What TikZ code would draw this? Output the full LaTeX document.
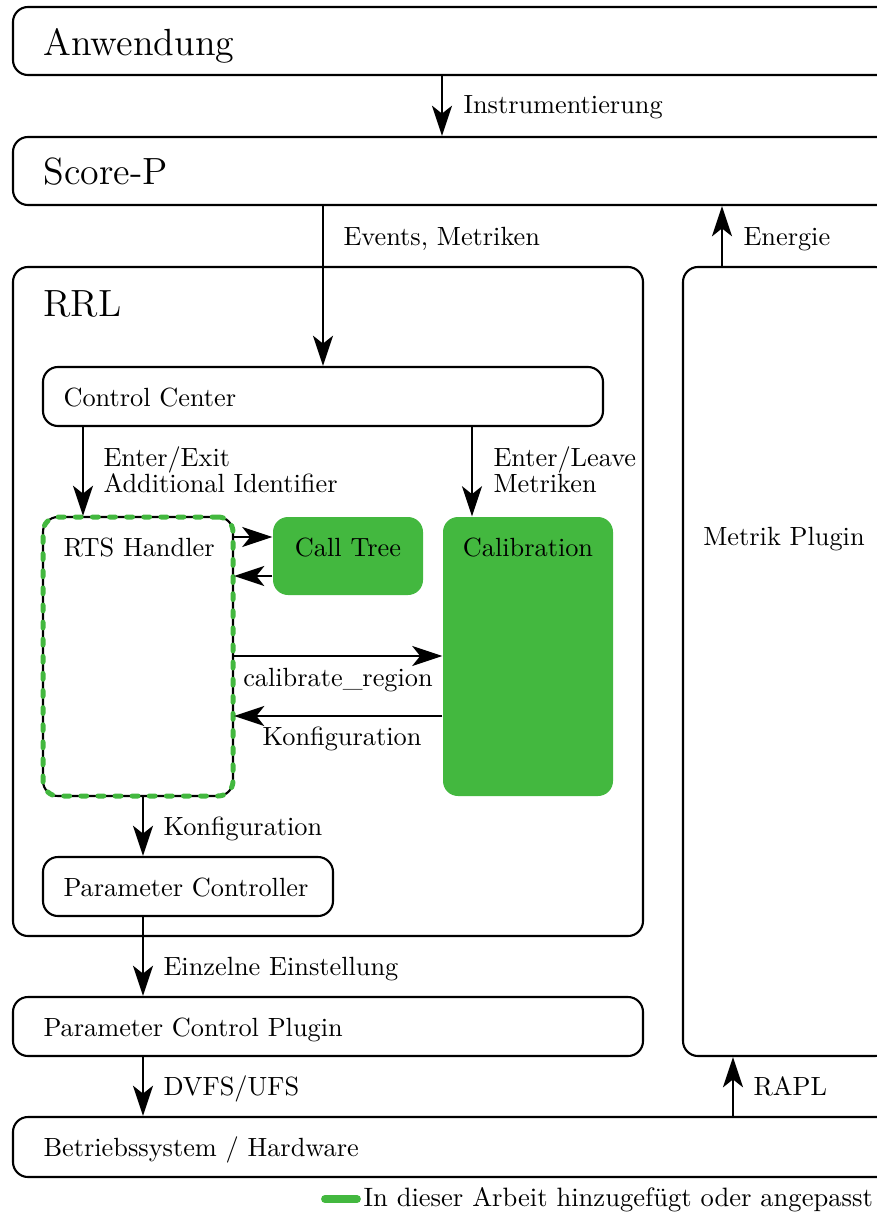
\documentclass[tikz,border=0pt]{standalone}
\usepackage{fontspec}
\usetikzlibrary{arrows.meta,fit}
\definecolor{addgreen}{RGB}{67,184,63}
\begin{document}
\begin{tikzpicture}[x=0.38pt,y=-0.38pt,
  box/.style={draw, line width=0.8pt, rounded corners=5.7pt, inner sep=0pt},
  greenbox/.style={fill=addgreen, rounded corners=5.7pt, inner sep=0pt},
  newpart/.style={postaction={draw=addgreen, line width=1.9pt,
      dash pattern=on 2.2pt off 4.3pt, line cap=round}},
  arr/.style={-{Stealth[length=11.5pt,width=7.6pt,inset=3pt]}, line width=0.8pt},
  lbl/.style={anchor=base west, inner sep=0pt, font=\fontsize{10}{12}\selectfont},
  clbl/.style={lbl, anchor=base},
  title/.style={lbl, font=\fontsize{14.4}{17}\selectfont},
  legline/.style={draw=addgreen, line width=3pt, line cap=round}]
\useasboundingbox (0,0) rectangle (876,1215);

% layers
\node[box, fit={(13,7) (900,75)}] (anw) {};
\node[title] at (43,56) {Anwendung};
\node[box, fit={(13,137) (900,205)}] (scorep) {};
\node[title] at (43,184) {Score-P};
\node[box, fit={(13,267) (643,936)}] (rrl) {};
\node[title] at (43,316) {RRL};
\node[box, fit={(683,267) (890,1056)}] (metrik) {};
\node[clbl] at (784,545) {Metrik Plugin};
\node[box, fit={(13,997) (643,1056)}] (pcp) {};
\node[lbl] at (43,1036) {Parameter Control Plugin};
\node[box, fit={(13,1117) (900,1177)}] (os) {};
\node[lbl] at (43,1156) {Betriebssystem / Hardware};

% RRL internals
\node[box, fit={(43,367) (603,426)}] (cc) {};
\node[lbl] at (63,406) {Control Center};
\node[box, newpart, fit={(43,517) (233,796)}] (rts) {};
\node[lbl] at (63,556) {RTS Handler};
\node[greenbox, fit={(273,517) (423,595)}] (calltree) {};
\node[clbl] at (348,556) {Call Tree};
\node[greenbox, fit={(443,517) (613,796)}] (calib) {};
\node[clbl] at (528,556) {Calibration};
\node[box, fit={(43,857) (333,916)}] (pc) {};
\node[lbl] at (63,896) {Parameter Controller};

% data flow
\draw[arr] (442,0 |- anw.south) -- (442,0 |- scorep.north);
\node[lbl] at (463,114) {Instrumentierung};
\draw[arr] (323,0 |- scorep.south) -- (323,0 |- cc.north);
\node[lbl] at (343,245) {Events, Metriken};
\draw[arr] (722,0 |- metrik.north) -- (722,0 |- scorep.south);
\node[lbl] at (743,245) {Energie};
\draw[arr] (83,0 |- cc.south) -- (83,0 |- rts.north);
\node[lbl] at (103,466) {Enter/Exit};
\node[lbl] at (103,492) {Additional Identifier};
\draw[arr] (472,0 |- cc.south) -- (472,0 |- calib.north);
\node[lbl] at (493,466) {Enter/Leave};
\node[lbl] at (493,492) {Metriken};
\draw[arr] (rts.east |- 0,537) -- (calltree.west |- 0,537);
\draw[arr] (calltree.west |- 0,576) -- (rts.east |- 0,576);
\draw[arr] (rts.east |- 0,656) -- (calib.west |- 0,656);
\node[clbl] at (338,686) {calibrate\_region};
\draw[arr] (calib.west |- 0,716) -- (rts.east |- 0,716);
\node[clbl] at (342,745) {Konfiguration};
\draw[arr] (143,0 |- rts.south) -- (143,0 |- pc.north);
\node[lbl] at (163,835) {Konfiguration};
\draw[arr] (143,0 |- pc.south) -- (143,0 |- pcp.north);
\node[lbl] at (163,975) {Einzelne Einstellung};
\draw[arr] (143,0 |- pcp.south) -- (143,0 |- os.north);
\node[lbl] at (163,1095) {DVFS/UFS};
\draw[arr] (733,0 |- os.north) -- (733,0 |- metrik.south);
\node[lbl] at (753,1095) {RAPL};

% legend
\node[lbl, font=\fontsize{10.1}{12}\selectfont] (legend) at (363,1206) {In dieser Arbeit hinzugefügt oder angepasst};
\coordinate (legstart) at (325,1199);
\draw[legline, shorten >=2.3pt] (legstart) -- (legend.west |- legstart);
\end{tikzpicture}
\end{document}
